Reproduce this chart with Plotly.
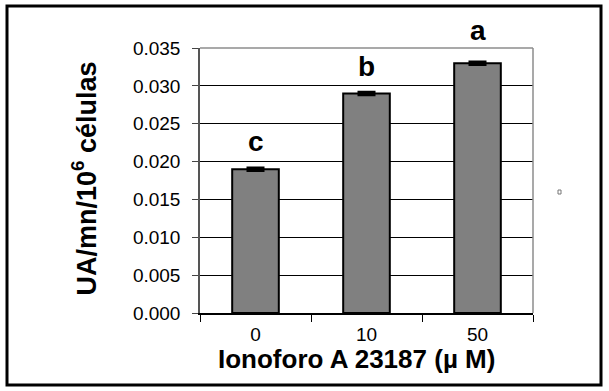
import plotly.graph_objects as go

# ---- data ----
categories = ["0", "10", "50"]
values = [0.019, 0.029, 0.033]
errors = [0.0002, 0.0002, 0.0002]
letters = ["c", "b", "a"]
y_ticks = [0.000, 0.005, 0.010, 0.015, 0.020, 0.025, 0.030, 0.035]
y_tick_labels = ["0.000", "0.005", "0.010", "0.015", "0.020", "0.025", "0.030", "0.035"]

W, H = 609, 391
L, R, T, B = 200, 76, 48, 78
PW, PH = W - L - R, H - T - B

def px(x):
    return (x - L) / PW

def py(y):
    return (H - B - y) / PH

FONT = "Liberation Sans, Arial, sans-serif"

fig = go.Figure()
fig.add_trace(go.Bar(
    x=categories, y=values,
    marker=dict(color="#808080", line=dict(color="black", width=2)),
    width=0.42,
    error_y=dict(type="data", array=errors, visible=True, color="black",
                 thickness=2.5, width=9),
    showlegend=False,
))

letter_shift = [10, 9, 15]
for i, (v, t, s) in enumerate(zip(values, letters, letter_shift)):
    fig.add_annotation(x=i, y=v, xref="x", yref="y", text="<b>%s</b>" % t,
                       showarrow=False, yanchor="bottom", yshift=s,
                       font=dict(family=FONT, size=28, color="black"))

# axis titles
fig.add_annotation(x=px(84), y=py(178.5), xref="paper", yref="paper",
                   text="<b>UA/mn/10<sup>6</sup> células</b>", textangle=-90,
                   showarrow=False, xanchor="center", yanchor="middle",
                   font=dict(family=FONT, size=27, color="black"))
fig.add_annotation(x=px(356.5), y=py(359), xref="paper", yref="paper",
                   text="<b>Ionoforo A 23187 (µ M)</b>",
                   showarrow=False, xanchor="center", yanchor="middle",
                   font=dict(family=FONT, size=26, color="black"))

# outer frame
fig.add_shape(type="rect", xref="paper", yref="paper",
              x0=px(7), x1=px(601), y0=py(385), y1=py(6),
              line=dict(color="black", width=3))
# top and right plot border (gray)
fig.add_shape(type="line", xref="paper", yref="paper", x0=0, x1=1, y0=1, y1=1,
              line=dict(color="#8c8c8c", width=1.5))
fig.add_shape(type="line", xref="paper", yref="paper", x0=1, x1=1, y0=0, y1=1,
              line=dict(color="#8c8c8c", width=1.5))
# tiny stray marker
fig.add_shape(type="rect", xref="paper", yref="paper",
              x0=px(558), x1=px(561), y0=py(194), y1=py(190),
              line=dict(color="#777777", width=1), fillcolor="white")

fig.update_layout(
    width=W, height=H,
    margin=dict(l=L, r=R, t=T, b=B, autoexpand=False),
    paper_bgcolor="white", plot_bgcolor="white",
    bargap=0.58,
    font=dict(family=FONT, color="black"),
    xaxis=dict(
        type="category", range=[-0.5, 2.5], tickson="boundaries",
        ticks="outside", ticklen=7,
        tickwidth=1, tickcolor="black", showline=True, linecolor="black",
        linewidth=1.5, showgrid=False, zeroline=False,
        tickfont=dict(family=FONT, size=19, color="black"),
        ticklabelstandoff=3,
    ),
    yaxis=dict(
        range=[0, 0.035], tickvals=y_ticks, ticktext=y_tick_labels,
        ticks="outside", ticklen=6, tickwidth=1, tickcolor="#444444",
        showline=True, linecolor="#555555", linewidth=1.5,
        showgrid=True, gridcolor="black", gridwidth=1, zeroline=False,
        tickfont=dict(family=FONT, size=19, color="black"),
        ticklabelstandoff=8,
    ),
)

fig.write_html("out.html", config={"displayModeBar": False},
               post_script="document.body.style.margin='0';")
